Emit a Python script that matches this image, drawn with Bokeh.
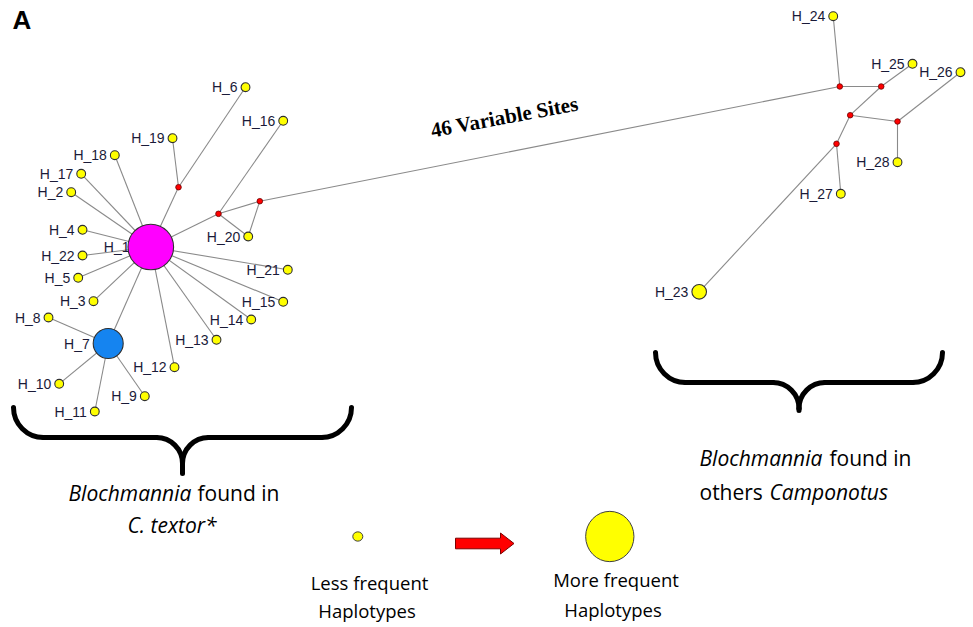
from bokeh.plotting import figure
from bokeh.models import Range1d
from bokeh.core.properties import value
from bokeh.embed import file_html
from bokeh.resources import INLINE

# ---------------- data ----------------
hap_names = ["H_1", "H_2", "H_3", "H_4", "H_5", "H_6", "H_7", "H_8", "H_9", "H_10",
             "H_11", "H_12", "H_13", "H_14", "H_15", "H_16", "H_17", "H_18", "H_19", "H_20",
             "H_21", "H_22", "H_23", "H_24", "H_25", "H_26", "H_27", "H_28"]
hap_x = [150.3, 70.7, 93.0, 82.0, 77.7, 245.0, 107.7, 48.0, 144.3, 58.7,
         94.3, 174.0, 216.0, 250.7, 282.7, 282.7, 80.7, 114.3, 172.0, 247.7,
         287.3, 82.0, 698.7, 832.7, 912.0, 960.0, 840.3, 897.0]
hap_y = [246.5, 191.7, 300.7, 229.3, 277.3, 86.7, 343.0, 317.0, 395.7, 383.3,
         411.0, 366.7, 339.3, 319.0, 301.3, 120.3, 173.3, 154.7, 137.7, 236.0,
         269.3, 255.0, 291.3, 15.7, 63.3, 71.7, 193.3, 161.7]
hap_r = [22.8, 4.4, 4.4, 4.4, 4.4, 4.4, 15.0, 4.4, 4.4, 4.4,
         4.4, 4.4, 4.4, 4.4, 4.4, 4.4, 4.4, 4.4, 4.4, 4.4,
         4.4, 4.4, 7.3, 4.4, 4.4, 4.4, 4.4, 4.4]
hap_color = ["#FF00FF"] + ["#FFFF00"] * 5 + ["#1584F0"] + ["#FFFF00"] * 21

mv_names = ["mv1", "mv2", "mv3", "mv4", "mv5", "mv6", "mv7", "mv8"]
mv_x = [178.0, 218.0, 259.3, 839.3, 880.7, 849.7, 897.0, 836.0]
mv_y = [186.7, 213.3, 200.7, 86.0, 86.0, 114.7, 121.0, 143.3]

edges = [("H_1", "H_18"), ("H_1", "H_17"), ("H_1", "H_2"), ("H_1", "H_4"), ("H_1", "H_22"),
         ("H_1", "H_5"), ("H_1", "H_3"), ("H_1", "H_7"), ("H_1", "H_12"), ("H_1", "H_13"),
         ("H_1", "H_14"), ("H_1", "H_15"), ("H_1", "H_21"), ("H_1", "mv1"), ("H_1", "mv2"),
         ("mv1", "H_19"), ("mv1", "H_6"), ("mv2", "H_16"), ("mv2", "H_20"), ("mv2", "mv3"),
         ("mv3", "H_20"), ("mv3", "mv4"), ("mv4", "H_24"), ("mv4", "mv5"), ("mv5", "H_25"),
         ("mv5", "mv6"), ("mv6", "mv7"), ("mv6", "mv8"), ("mv7", "H_26"), ("mv7", "H_28"),
         ("mv8", "H_27"), ("mv8", "H_23"),
         ("H_7", "H_8"), ("H_7", "H_10"), ("H_7", "H_11"), ("H_7", "H_9")]

long_edge_label = "46 Variable Sites"

# braces: (left x, right x, top y, horizontal y, tip y)
braces = [(13, 351, 407, 437, 473), (655, 942, 352, 382, 410)]

# ---------------- figure ----------------
W, H = 973, 627
p = figure(width=W, height=H, x_range=Range1d(0, W), y_range=Range1d(H, 0),
           output_backend="svg", toolbar_location=None, min_border=0,
           x_axis_type=None, y_axis_type=None)
p.grid.visible = False
p.outline_line_color = None
p.background_fill_color = "white"
p.border_fill_color = "white"

pos = {}
for n, x, y in zip(hap_names, hap_x, hap_y):
    pos[n] = (x, y)
for n, x, y in zip(mv_names, mv_x, mv_y):
    pos[n] = (x, y)

x0 = [pos[a][0] for a, b in edges]
y0 = [pos[a][1] for a, b in edges]
x1 = [pos[b][0] for a, b in edges]
y1 = [pos[b][1] for a, b in edges]
p.segment(x0=x0, y0=y0, x1=x1, y1=y1, line_color="#8a8a8a", line_width=1.1)

# labels (drawn before nodes so the big node covers part of its label)
lab_gap = [-1.5] + [3.5] * 27
lab_x = [x - r - g for x, r, g in zip(hap_x, hap_r, lab_gap)]
p.text(x=lab_x, y=hap_y, text=hap_names, text_align="right", text_baseline="middle",
       text_font=value("Liberation Sans"), text_font_size="14px", text_color="#1a1a38")

p.circle(x=mv_x, y=mv_y, radius=2.8, fill_color="#FF0000", line_color="#6a0000", line_width=0.8)
p.circle(x=hap_x, y=hap_y, radius=hap_r, fill_color=hap_color, line_color="#303030", line_width=1.1)

# long-edge label
p.text(x=[504], y=[116.5], text=[long_edge_label], angle=0.183, text_align="center",
       text_baseline="middle", text_font=value("Liberation Serif"), text_font_style="bold",
       text_font_size="21px", text_color="black")

# panel letter
p.text(x=[12], y=[19.5], text=["A"], text_align="left", text_baseline="middle",
       text_font=value("Liberation Sans"), text_font_style="bold", text_font_size="26px",
       text_color="black")

# braces
k = 0.5523
for (bx0, bx1, T, Hy, P) in braces:
    r = Hy - T
    xm = (bx0 + bx1) / 2.0
    w = min(26.0, P - Hy)
    bez = dict(x0=[], y0=[], x1=[], y1=[], cx0=[], cy0=[], cx1=[], cy1=[])
    def add(px0, py0, c0x, c0y, c1x, c1y, px1, py1):
        bez["x0"].append(px0); bez["y0"].append(py0)
        bez["cx0"].append(c0x); bez["cy0"].append(c0y)
        bez["cx1"].append(c1x); bez["cy1"].append(c1y)
        bez["x1"].append(px1); bez["y1"].append(py1)
    add(bx0, T, bx0, T + k * r, bx0 + r - k * r, Hy, bx0 + r, Hy)
    add(bx1, T, bx1, T + k * r, bx1 - r + k * r, Hy, bx1 - r, Hy)
    add(xm - w, Hy, xm - w + k * w, Hy, xm, Hy + w - k * w, xm, Hy + w)
    add(xm + w, Hy, xm + w - k * w, Hy, xm, Hy + w - k * w, xm, Hy + w)
    p.bezier(**bez, line_color="black", line_width=5, line_cap="round")
    p.segment(x0=[bx0 + r, xm + w, xm], y0=[Hy, Hy, Hy + w], x1=[xm - w, bx1 - r, xm],
              y1=[Hy, Hy, P], line_color="black", line_width=5, line_cap="round")

# caption texts
cap_font = value("Open Sans")
def cap(x, y, t, italic=False, size="21px", align="left"):
    p.text(x=[x], y=[y], text=[t], text_align=align, text_baseline="middle",
           text_font=cap_font, text_font_style="italic" if italic else "normal",
           text_font_size=size, text_color="black")

cap(68, 492, "Blochmannia", italic=True)
cap(197, 492, "found in")
cap(127, 524.5, "C. textor*", italic=True)
cap(699, 457.5, "Blochmannia", italic=True)
cap(829, 457.5, "found in")
cap(699, 491, "others")
cap(769, 491, "Camponotus", italic=True)

# size legend
leg_x = [357.3, 609.3]
leg_y = [536.0, 536.0]
leg_w = [10.0, 48.3]
leg_h = [9.3, 50.3]
p.ellipse(x=leg_x, y=leg_y, width=leg_w, height=leg_h, fill_color="#FFFF00",
          line_color="#404040", line_width=1)
ax0, ax1, ay, bh, hh, hl = 455.0, 513.5, 543.0, 5.3, 10.5, 13.5
p.patch(x=[ax0, ax1 - hl, ax1 - hl, ax1, ax1 - hl, ax1 - hl, ax0],
        y=[ay - bh, ay - bh, ay - hh, ay, ay + hh, ay + bh, ay + bh],
        fill_color="#FF0000", line_color="#7a0000", line_width=1)
cap(369, 581.5, "Less frequent", size="18.5px", align="center")
cap(366.5, 610, "Haplotypes", size="18.5px", align="center")
cap(615.5, 578.5, "More frequent", size="18.5px", align="center")
cap(612.5, 608.5, "Haplotypes", size="18.5px", align="center")

open("out.html", "w").write(file_html(p, INLINE))
